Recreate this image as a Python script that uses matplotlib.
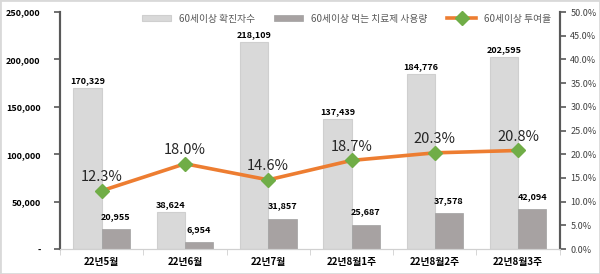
import numpy as np
import matplotlib.pyplot as plt
from matplotlib.ticker import FuncFormatter, MultipleLocator

plt.rcParams['font.family'] = ['Noto Sans CJK KR', 'DejaVu Sans']

categories = ['22년5월', '22년6월', '22년7월', '22년8월1주', '22년8월2주', '22년8월3주']
confirmed = [170329, 38624, 218109, 137439, 184776, 202595]
treated = [20955, 6954, 31857, 25687, 37578, 42094]
rate = [12.3, 18.0, 14.6, 18.7, 20.3, 20.8]

fig = plt.figure(figsize=(6, 2.74), dpi=100)
ax = fig.add_axes([0.1, 0.091, 0.833, 0.865])
ax2 = ax.twinx()

x = np.arange(len(categories))
w = 0.34
b1 = ax.bar(x - w / 2, confirmed, w, color='#D9D9D9', edgecolor='#CFCFCF', lw=0.8,
            label='60세이상 확진자수', zorder=2)
b2 = ax.bar(x + w / 2, treated, w, color='#A7A2A2', edgecolor='#A0A0A0', lw=0.5,
            label='60세이상 먹는 치료제 사용량', zorder=2)
for xi, v in zip(x, confirmed):
    ax.text(xi - w / 2, v + 3000, f'{v:,}', ha='center', va='bottom', fontsize=6.5,
            fontweight='bold')
for xi, v in zip(x, treated):
    ax.text(xi + w / 2, v + 9000, f'{v:,}', ha='center', va='bottom', fontsize=6.5,
            fontweight='bold')

ln, = ax2.plot(x, rate, color='#ED7D31', lw=2.6, marker='D', ms=7.5,
               mfc='#70AD47', mec='#70AD47', label='60세이상 투여율', zorder=3)
for xi, v in zip(x, rate):
    ax2.text(xi, v + 1.4, f'{v:.1f}%', ha='center', va='bottom', fontsize=10.5,
             color='#262626', fontweight='medium')

ax.set_xlim(-0.5, len(categories) - 0.5)
ax.set_ylim(0, 250000)
ax2.set_ylim(0, 50)
ax.yaxis.set_major_locator(MultipleLocator(50000))
ax2.yaxis.set_major_locator(MultipleLocator(5))
ax.yaxis.set_major_formatter(FuncFormatter(lambda v, p: '-' if v == 0 else f'{int(v):,}'))
ax2.yaxis.set_major_formatter(FuncFormatter(lambda v, p: f'{v:.1f}%'))

ax.set_xticks(x)
ax.set_xticklabels(categories, fontsize=7, fontweight='bold')
ax.set_xticks(np.arange(len(categories) + 1) - 0.5, minor=True)
ax.tick_params(axis='x', which='major', length=0, pad=6)
ax.tick_params(axis='x', which='minor', length=4, color='#D0D0D0')
for lab in ax.get_yticklabels():
    lab.set_fontweight('bold')
ax.tick_params(axis='y', labelsize=6.5, length=4, color='#595959', width=1.2, pad=10)
ax2.tick_params(axis='y', labelsize=6.5, length=4, color='#595959', width=1.2,
                labelcolor='#404040')

for a in (ax, ax2):
    a.spines['top'].set_visible(False)
    a.spines['left'].set_color('#595959')
    a.spines['right'].set_color('#595959')
    a.spines['left'].set_linewidth(1.5)
    a.spines['right'].set_linewidth(1.5)
    a.spines['bottom'].set_color('#D0D0D0')

ax.legend([b1, b2, ln], [b1.get_label(), b2.get_label(), ln.get_label()],
          loc='upper right', bbox_to_anchor=(1.0, 1.03), ncol=3, frameon=False,
          fontsize=7, handlelength=3, handleheight=0.6, columnspacing=2,
          labelcolor='#595959')

fig.patches.append(plt.Rectangle((0, 0), 1, 1, transform=fig.transFigure,
                                 fill=False, ec='#D9D9D9', lw=2))
fig.savefig('out.png', dpi=100)
